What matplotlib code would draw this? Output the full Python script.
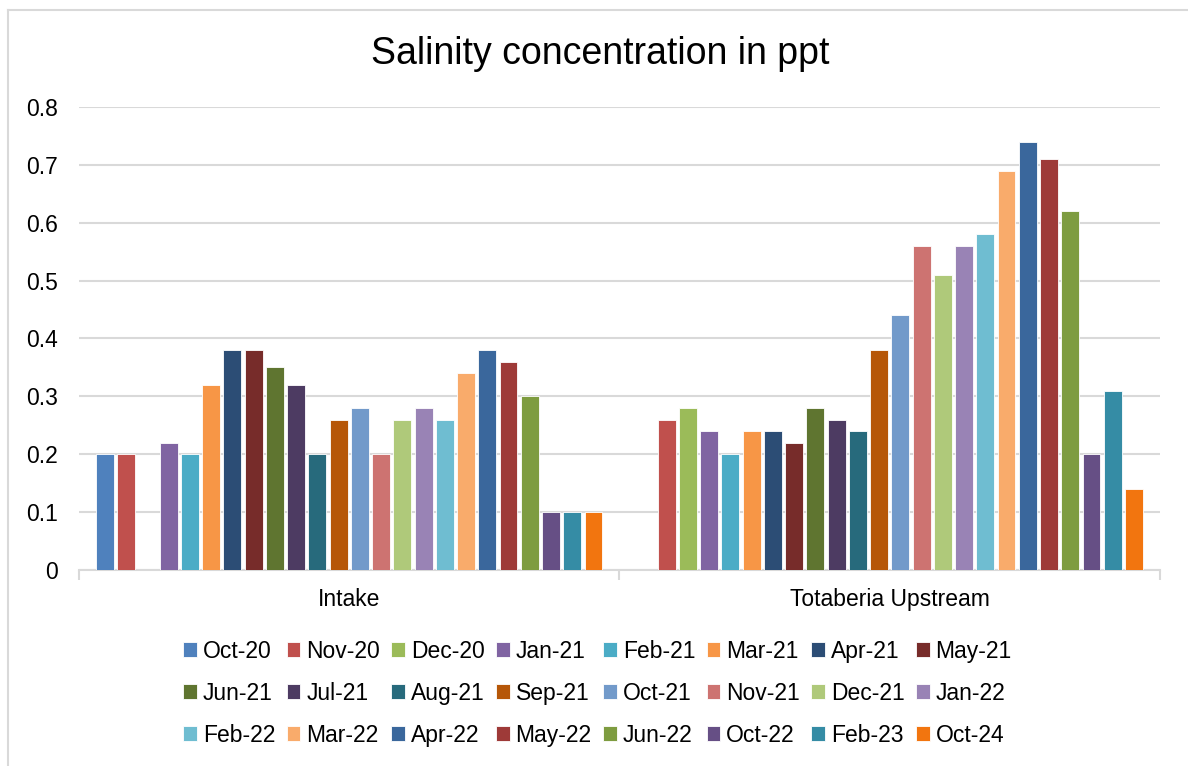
import matplotlib
matplotlib.use("Agg")
import matplotlib.pyplot as plt
from matplotlib.lines import Line2D
import numpy as np

plt.rcParams["font.family"] = ["Liberation Sans", "DejaVu Sans"]

categories = ["Intake", "Totaberia Upstream"]

months = ["Oct-20", "Nov-20", "Dec-20", "Jan-21", "Feb-21", "Mar-21",
          "Apr-21", "May-21", "Jun-21", "Jul-21", "Aug-21", "Sep-21",
          "Oct-21", "Nov-21", "Dec-21", "Jan-22", "Feb-22", "Mar-22",
          "Apr-22", "May-22", "Jun-22", "Oct-22", "Feb-23", "Oct-24"]

# nan = no reading for that month
intake = [0.20, 0.20, np.nan, 0.22, 0.20, 0.32,
          0.38, 0.38, 0.35, 0.32, 0.20, 0.26,
          0.28, 0.20, 0.26, 0.28, 0.26, 0.34,
          0.38, 0.36, 0.30, 0.10, 0.10, 0.10]

totaberia = [np.nan, 0.26, 0.28, 0.24, 0.20, 0.24,
             0.24, 0.22, 0.28, 0.26, 0.24, 0.38,
             0.44, 0.56, 0.51, 0.56, 0.58, 0.69,
             0.74, 0.71, 0.62, 0.20, 0.31, 0.14]

colors = ["#4F81BD", "#C0504D", "#9BBB59", "#8064A2", "#4BACC6", "#F79646",
          "#2C4D75", "#772C2A", "#5F7530", "#4D3B62", "#276A7C", "#B65708",
          "#729ACA", "#CD7371", "#AFC97A", "#9983B5", "#6FBDD1", "#F9AB6B",
          "#3A679C", "#9E3A38", "#7E9C40", "#664F85", "#358CA5", "#F2750F"]

GRID = "#D9D9D9"
FS = 16.5

fig = plt.figure(figsize=(11.88, 7.66), dpi=100)
ax = fig.add_axes([0.0665, 0.2559, 0.9099, 0.6044])

n = len(months)
slot = 0.0393
bw = 0.033
x = np.arange(len(categories))
handles = []
for i, m in enumerate(months):
    vals = [intake[i], totaberia[i]]
    b = ax.bar(x + (i - (n - 1) / 2) * slot, vals, width=bw, color=colors[i],
               edgecolor="white", linewidth=0.6, label=m, zorder=3)
    handles.append(b)

ax.set_xlim(-0.5, 1.5)
ax.set_ylim(0, 0.8)
ax.set_yticks(np.arange(0, 0.81, 0.1))
ax.set_yticklabels(["0"] + [f"{v:.1f}" for v in np.arange(0.1, 0.81, 0.1)])
ax.yaxis.grid(True, color=GRID, linewidth=1.5, zorder=0)
ax.set_axisbelow(True)

ax.set_xticks(x)
ax.set_xticklabels(categories)
ax.set_xticks([-0.5, 0.5, 1.5], minor=True)
ax.tick_params(axis="x", which="major", length=0, pad=13, labelsize=FS)
ax.tick_params(axis="x", which="minor", length=7, width=1.5, color=GRID)
ax.tick_params(axis="y", length=0, pad=15, labelsize=FS)

for s in ["top", "right", "left"]:
    ax.spines[s].set_visible(False)
ax.spines["bottom"].set_color(GRID)
ax.spines["bottom"].set_linewidth(1.5)

# title is centred on the whole chart, not the plot area
ax.set_title("Salinity concentration in ppt", fontsize=27, pad=31, x=0.482)

# legend reads row by row, matplotlib fills columns first
ncol, nrow = 8, 3
order = [r * ncol + c for c in range(ncol) for r in range(nrow)]
fig.legend([handles[k] for k in order], [months[k] for k in order],
           loc="upper center", bbox_to_anchor=(0.503, 0.192), ncol=ncol,
           frameon=False, fontsize=FS, handlelength=0.6, handleheight=0.6,
           handletextpad=0.25, columnspacing=0.5, labelspacing=0.83)

# chart border (left and top edges visible)
fig.add_artist(Line2D([8 / 1188, 8 / 1188], [0, 1 - 10 / 766], color=GRID, lw=1.5))
fig.add_artist(Line2D([8 / 1188, 1], [1 - 10 / 766, 1 - 10 / 766], color=GRID, lw=1.5))

fig.savefig("out.png", dpi=100, facecolor="white")
